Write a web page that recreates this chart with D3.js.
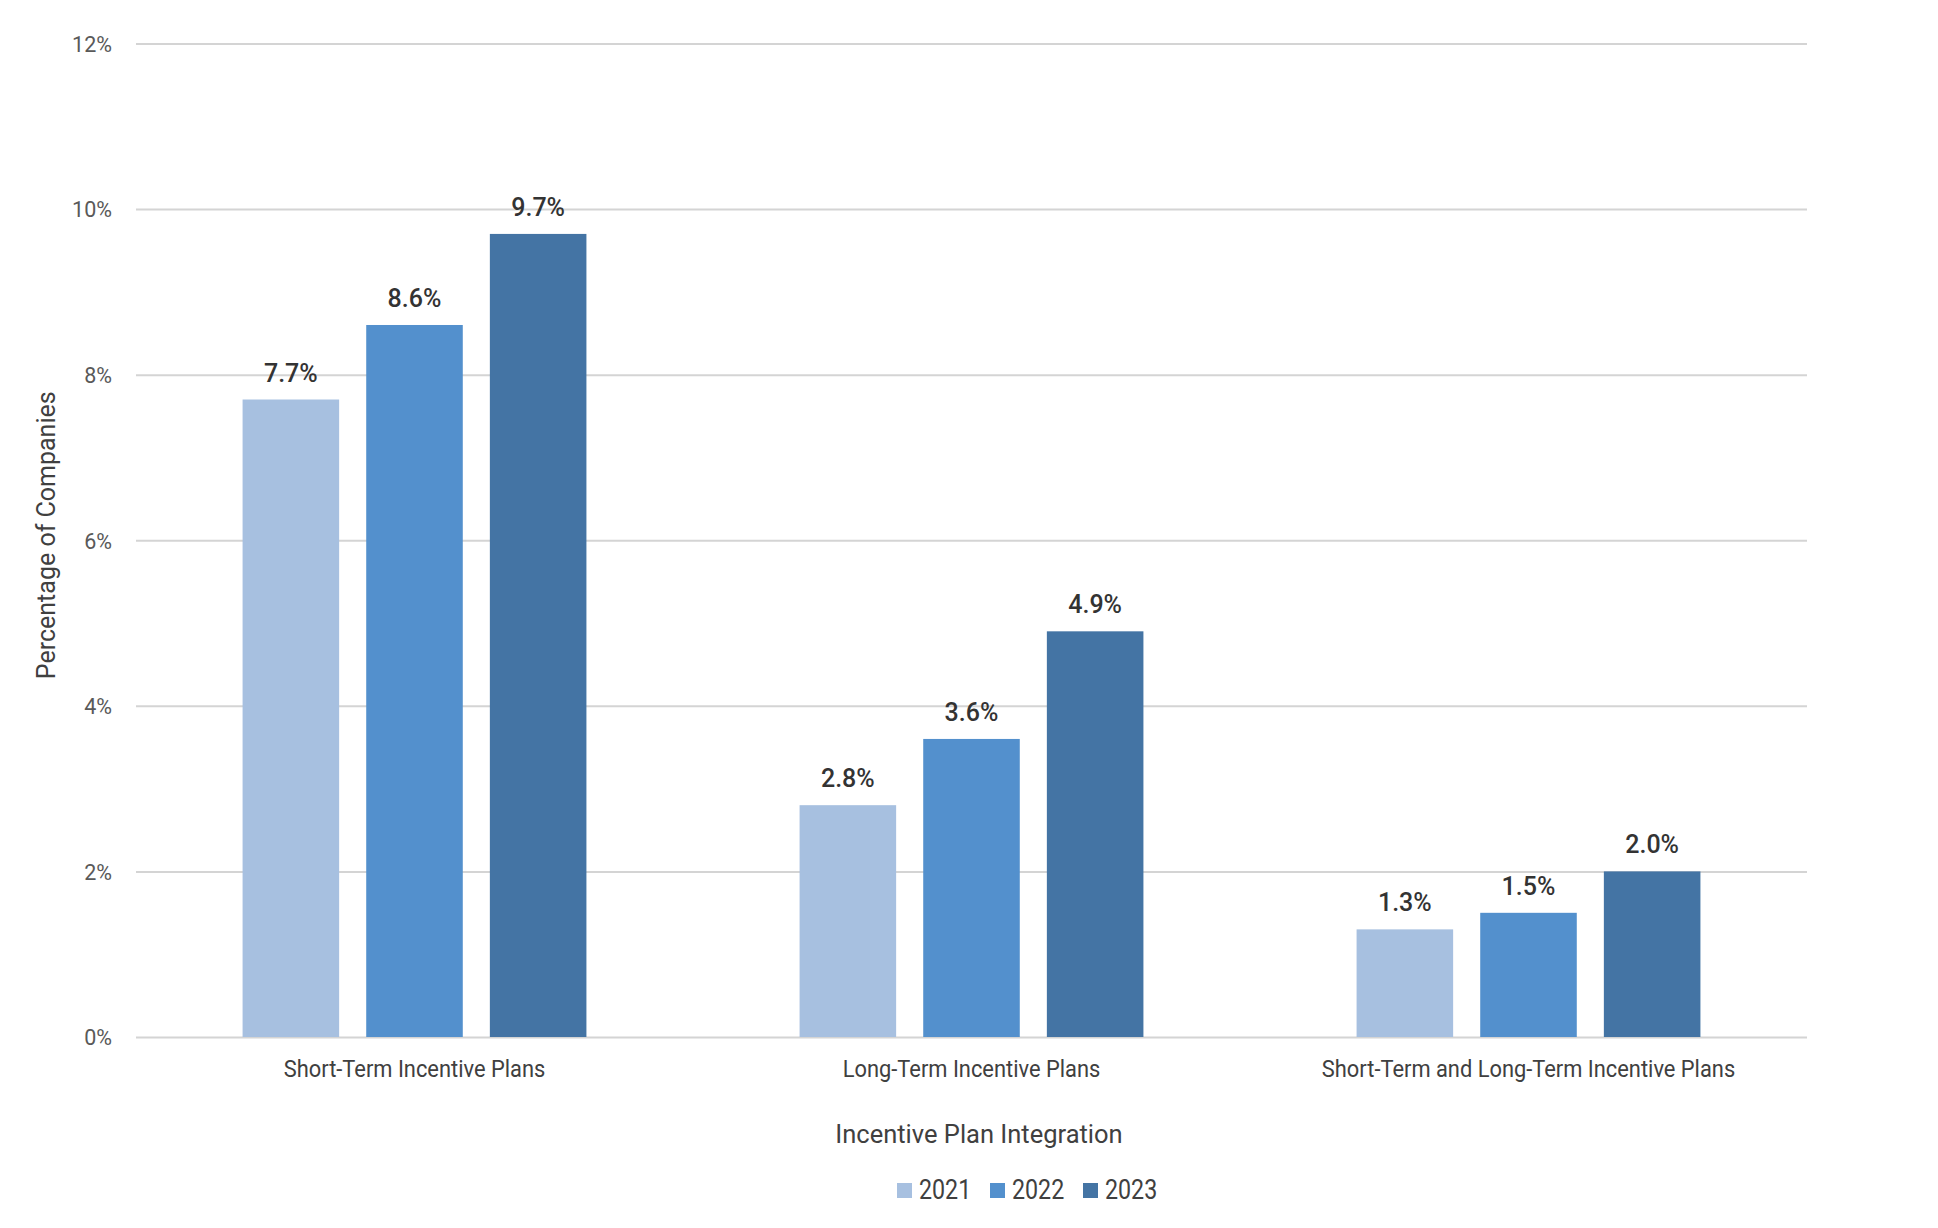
<!DOCTYPE html>
<html>
<head>
<meta charset="utf-8">
<script src="https://cdn.jsdelivr.net/npm/d3@7"></script>
<style>
  html, body { margin: 0; padding: 0; background: #ffffff; }
  svg { display: block; }
  text { font-family: Roboto, "Liberation Sans", sans-serif; }
</style>
</head>
<body>
<svg id="chart" width="1938" height="1228"></svg>
<script>
// ---- data ----
const categories = [
  "Short-Term Incentive Plans",
  "Long-Term Incentive Plans",
  "Short-Term and Long-Term Incentive Plans"
];
const years = ["2021", "2022", "2023"];
const values2021 = [7.7, 2.8, 1.3];
const values2022 = [8.6, 3.6, 1.5];
const values2023 = [9.7, 4.9, 2.0];
const yTicks = [0, 2, 4, 6, 8, 10, 12];
const xAxisTitle = "Incentive Plan Integration";
const yAxisTitle = "Percentage of Companies";

const seriesValues = { "2021": values2021, "2022": values2022, "2023": values2023 };
const colors = { "2021": "#a7c0e0", "2022": "#5390cd", "2023": "#4474a4" };

// ---- layout ----
const svg = d3.select("#chart");
const plotLeft = 136, plotRight = 1807, plotTop = 43.5, plotBottom = 1037;

function squeeze(sel, f) {
  sel.each(function () {
    const w = this.getComputedTextLength();
    this.setAttribute("textLength", w * f);
    this.setAttribute("lengthAdjust", "spacingAndGlyphs");
  });
}

const y = d3.scaleLinear().domain([0, 12]).range([plotBottom, plotTop]);
const x0 = d3.scaleBand().domain(categories).range([plotLeft, plotRight]).paddingInner(0).paddingOuter(0);
const x1 = d3.scaleBand().domain(years).range([0, x0.bandwidth()])
  .paddingInner(0.219).paddingOuter(0.862);

// grid + y tick labels
const yAxis = d3.axisLeft(y)
  .tickValues(yTicks)
  .tickSize(-(plotRight - plotLeft))
  .tickPadding(24)
  .tickFormat(d => d + "%");
const gy = svg.append("g").attr("transform", `translate(${plotLeft},0)`).call(yAxis);
gy.select(".domain").remove();
gy.selectAll(".tick line").attr("stroke", "#d4d4d4").attr("stroke-width", 2);
gy.selectAll(".tick text")
  .attr("fill", "#595959")
  .style("font-size", "21.5px")
  .attr("dy", "0.36em");

// bars
const rows = categories.map((c, i) => ({ cat: c, vals: years.map(yr => ({ year: yr, v: seriesValues[yr][i] })) }));
const groups = svg.append("g").selectAll("g").data(rows).join("g")
  .attr("transform", d => `translate(${x0(d.cat)},0)`);
groups.selectAll("rect").data(d => d.vals).join("rect")
  .attr("x", d => x1(d.year))
  .attr("width", x1.bandwidth())
  .attr("y", d => y(d.v))
  .attr("height", d => y(0) - y(d.v))
  .attr("fill", d => colors[d.year]);

// data labels
groups.selectAll("text.dl").data(d => d.vals).join("text")
  .attr("class", "dl")
  .attr("x", d => x1(d.year) + x1.bandwidth() / 2)
  .attr("y", d => y(d.v) - 18)
  .attr("text-anchor", "middle")
  .attr("fill", "#333333")
  .style("font-size", "25px")
  .style("font-weight", "500")
  .text(d => d.v.toFixed(1) + "%");

// category labels
const cl = svg.append("g").selectAll("text").data(categories).join("text")
  .attr("x", d => x0(d) + x0.bandwidth() / 2)
  .attr("y", 1077)
  .attr("text-anchor", "middle")
  .attr("fill", "#404040")
  .style("font-size", "23px")
  .text(d => d);
squeeze(cl, 0.95);

// x axis title
const xt = svg.append("text")
  .attr("x", 979)
  .attr("y", 1143)
  .attr("text-anchor", "middle")
  .attr("fill", "#404040")
  .style("font-size", "26px")
  .text(xAxisTitle);
squeeze(xt, 0.98);

// y axis title
svg.append("text")
  .attr("transform", `translate(55,${(plotTop + plotBottom) / 2 - 5}) rotate(-90)`)
  .attr("text-anchor", "middle")
  .attr("fill", "#404040")
  .style("font-size", "25px")
  .text(yAxisTitle);

// legend
const legendX = [897, 990, 1083];
const lg = svg.append("g").selectAll("g").data(years).join("g")
  .attr("transform", (d, i) => `translate(${legendX[i]},1183)`);
lg.append("rect").attr("width", 15).attr("height", 15).attr("fill", d => colors[d]);
const lt = lg.append("text")
  .attr("x", 22)
  .attr("y", 16)
  .attr("fill", "#404040")
  .style("font-size", "27px")
  .text(d => d);
squeeze(lt, 0.86);
</script>
</body>
</html>
